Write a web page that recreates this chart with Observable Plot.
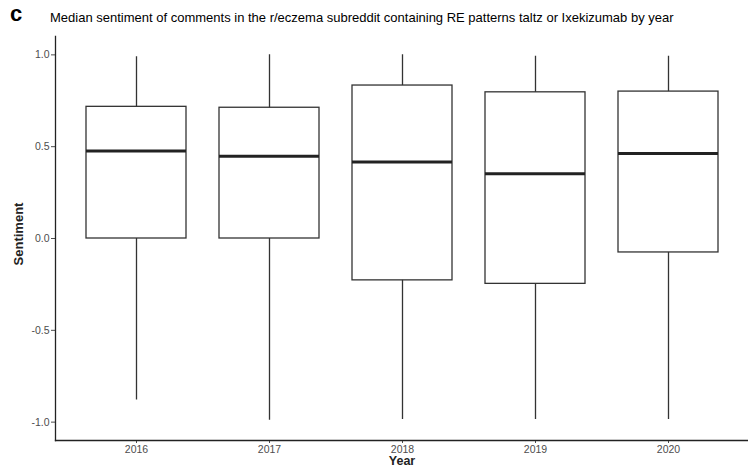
<!DOCTYPE html>
<html><head><meta charset="utf-8">
<script src="https://cdn.jsdelivr.net/npm/d3@7"></script>
<script src="https://cdn.jsdelivr.net/npm/@observablehq/plot@0.6"></script>
<style>
body{margin:0;background:#fff;font-family:"Liberation Sans",Arial,sans-serif;}
#wrap{position:relative;width:748px;height:469px;overflow:hidden;background:#fff;}
#tag{position:absolute;left:10px;top:1px;font-size:22px;font-weight:bold;color:#000;}
#title{position:absolute;left:50px;top:10px;font-size:13px;color:#000;white-space:nowrap;}
#ylab{position:absolute;left:18px;top:234px;font-size:13px;font-weight:bold;color:#222;transform:translate(-50%,-50%) rotate(-90deg);white-space:nowrap;}
#xlab{position:absolute;left:402px;top:455px;font-size:12.5px;font-weight:bold;color:#222;transform:translateX(-50%);line-height:13px;}
#chart{position:absolute;left:0;top:0;}
</style></head>
<body>
<div id="wrap">
<div id="chart"></div>
<div id="tag">c</div>
<div id="title">Median sentiment of comments in the r/eczema subreddit containing RE patterns taltz or Ixekizumab by year</div>
<div id="ylab">Sentiment</div>
<div id="xlab">Year</div>
</div>
<script>
const years = ["2016", "2017", "2018", "2019", "2020"];
const whiskerLow = [-0.88, -0.99, -0.986, -0.986, -0.986];
const whiskerHigh = [0.99, 1.0, 1.0, 0.993, 0.993];
const q1 = [0.0, 0.0, -0.228, -0.247, -0.076];
const q3 = [0.717, 0.712, 0.833, 0.796, 0.80];
const median = [0.477, 0.448, 0.417, 0.352, 0.463];
const yTicks = [-1, -0.5, 0, 0.5, 1];

const rows = years.map((y, i) => ({year: y, lo: whiskerLow[i], hi: whiskerHigh[i], q1: q1[i], q3: q3[i], med: median[i]}));

const chart = Plot.plot({
  width: 748,
  height: 469,
  marginTop: 36,
  marginBottom: 29,
  marginLeft: 55,
  marginRight: 0,
  style: {fontFamily: "Liberation Sans, Arial, sans-serif", fontSize: "10.5px", background: "transparent"},
  x: {type: "band", domain: years, paddingInner: 0.25, paddingOuter: 0.225, axis: null},
  y: {domain: [-1.1, 1.1], axis: null},
  marks: [
    Plot.ruleX(rows, {x: "year", y1: "lo", y2: "hi", stroke: "#333", strokeWidth: 1.3}),
    Plot.barY(rows, {x: "year", y1: "q1", y2: "q3", fill: "#fff", stroke: "#333", strokeWidth: 1.3}),
    Plot.tickY(rows, {x: "year", y: "med", stroke: "#222", strokeWidth: 3}),
    Plot.axisY({ticks: yTicks, tickFormat: d => d.toFixed(1), tickSize: 4, tickPadding: 2, color: "#4d4d4d", label: null}),
    Plot.axisX({tickSize: 3, tickPadding: 2, color: "#4d4d4d", label: null}),
    Plot.frame({anchor: "left", stroke: "#222", strokeWidth: 1.3}),
    Plot.frame({anchor: "bottom", stroke: "#222", strokeWidth: 1.3})
  ]
});
document.getElementById("chart").appendChild(chart);
</script>
</body></html>
